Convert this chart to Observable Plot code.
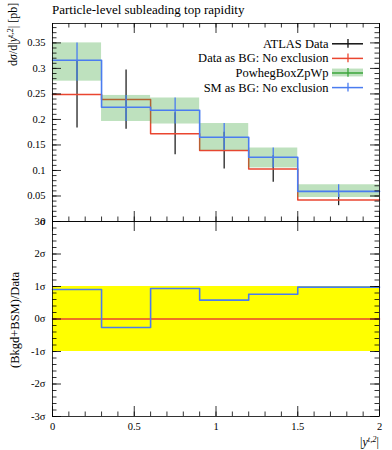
<!DOCTYPE html>
<html><head><meta charset="utf-8">
<script src="https://cdn.jsdelivr.net/npm/d3@7"></script>
<script src="https://cdn.jsdelivr.net/npm/@observablehq/plot@0.6"></script>
<style>
body{margin:0;background:#fff;}
#wrap{position:relative;width:392px;height:450px;overflow:hidden;font-family:"Liberation Serif",serif;}
#wrap svg{position:absolute;overflow:visible;}
</style></head><body><div id="wrap"></div>
<script>
// ---- data ----
const binLo = [0, 0.3, 0.6, 0.9, 1.2, 1.5];
const binHi = [0.3, 0.6, 0.9, 1.2, 1.5, 2.0];
const atlasData = [0.249, 0.239, 0.172, 0.139, 0.103, 0.042];
const atlasErr  = [0.066, 0.058, 0.041, 0.036, 0.026, 0.011];
const dataAsBG  = [0.249, 0.239, 0.172, 0.139, 0.103, 0.042];
const powhegLo  = [0.275, 0.196, 0.191, 0.139, 0.105, 0.047];
const powhegHi  = [0.350, 0.247, 0.242, 0.192, 0.144, 0.072];
const smAsBG    = [0.316, 0.224, 0.218, 0.165, 0.126, 0.059];
const ratioDataBG = [0, 0, 0, 0, 0, 0];
const ratioSM     = [0.91, -0.26, 0.94, 0.58, 0.76, 0.98];
const sigmaBand = [-1, 1];
const xDomain = [0, 2];
const topYDomain = [0, 0.388];
const lowYDomain = [-3, 3];
const xTicks = [0, 0.5, 1, 1.5, 2];
const xMinor = d3.range(0, 2.0001, 0.1);
const topYTicks = [0, 0.05, 0.1, 0.15, 0.2, 0.25, 0.3, 0.35];
const topYMinor = d3.range(0, 0.3881, 0.01);
const lowYTicks = [-3, -2, -1, 0, 1, 2, 3];
const lowYMinor = d3.range(-3, 3.001, 0.2);
const legendNames = ["ATLAS Data", "Data as BG: No exclusion", "PowhegBoxZpWp", "SM as BG: No exclusion"];
const legendColors = ["#111111", "#ea4630", "#3aa53a", "#4a7cf0"];

const RED = legendColors[1], BLUE = legendColors[3], GREEN = legendColors[2];
const bins = binLo.map((lo, i) => ({lo, hi: binHi[i], c: (lo + binHi[i]) / 2,
  d: atlasData[i], e: atlasErr[i], bg: dataAsBG[i], pl: powhegLo[i], ph: powhegHi[i], sm: smAsBG[i],
  rbg: ratioDataBG[i], rsm: ratioSM[i]}));
const step = (vals) => binLo.map((x, i) => ({x, y: vals[i]})).concat([{x: binHi[binHi.length - 1], y: vals[vals.length - 1]}]);

const W = 392, mL = 52, mR = 13;
const plotW = W - mL - mR;
const FONT = "Liberation Serif";
const tickStroke = {stroke: "#000", strokeWidth: 0.8};
const MAJ = 9, MIN = 4.5;

// ---- top panel ----
const topH = 221, topMT = 23, topMB = 0, topPH = topH - topMT - topMB;
const topPlot = Plot.plot({
  width: W, height: topH, marginLeft: mL, marginRight: mR, marginTop: topMT, marginBottom: topMB,
  x: {domain: xDomain, axis: null},
  y: {domain: topYDomain, axis: null},
  style: {fontFamily: FONT, fontSize: "10.5px", background: "transparent", color: "#000"},
  marks: [
    Plot.ruleX(bins, {x: "c", y1: d => d.d - d.e, y2: d => d.d + d.e, stroke: "#222", strokeWidth: 1.3}),
    Plot.line(step(dataAsBG), {x: "x", y: "y", curve: "step-after", stroke: RED, strokeWidth: 1.5}),
    Plot.rect(bins, {x1: "lo", x2: "hi", y1: "pl", y2: "ph", fill: GREEN, fillOpacity: 0.33}),
    Plot.ruleX(bins, {x: "c", y1: "pl", y2: "ph", stroke: BLUE, strokeWidth: 1.3}),
    Plot.line(step(smAsBG), {x: "x", y: "y", curve: "step-after", stroke: BLUE, strokeWidth: 1.6}),
    // inward ticks
    Plot.tickY(topYMinor, {y: d => d, insetRight: plotW - MIN, ...tickStroke}),
    Plot.tickY(topYTicks, {y: d => d, insetRight: plotW - MAJ, ...tickStroke}),
    Plot.tickY(topYMinor, {y: d => d, insetLeft: plotW - MIN, ...tickStroke}),
    Plot.tickY(topYTicks, {y: d => d, insetLeft: plotW - MAJ, ...tickStroke}),
    Plot.tickX(xMinor, {x: d => d, insetBottom: topPH - MIN, ...tickStroke}),
    Plot.tickX(xTicks, {x: d => d, insetBottom: topPH - MAJ - 1, ...tickStroke}),
    Plot.tickX(xMinor, {x: d => d, insetTop: topPH - MIN, ...tickStroke}),
    Plot.tickX(xTicks, {x: d => d, insetTop: topPH - MAJ - 1, ...tickStroke}),
    Plot.frame({stroke: "#000", strokeWidth: 0.8}),
    Plot.axisY(topYTicks, {anchor: "left", label: null, tickSize: 0, tickPadding: 7, tickFormat: d => String(d), fontSize: 10.5})
  ]
});

// ---- lower panel ----
const lowTop = 221, lowH = 229, lowMT = 0, lowMB = 34, lowPH = lowH - lowMT - lowMB;
const lowPlot = Plot.plot({
  width: W, height: lowH, marginLeft: mL, marginRight: mR, marginTop: lowMT, marginBottom: lowMB,
  x: {domain: xDomain, axis: null},
  y: {domain: lowYDomain, axis: null},
  style: {fontFamily: FONT, fontSize: "10.5px", background: "transparent", color: "#000"},
  marks: [
    Plot.rect([sigmaBand], {x1: () => xDomain[0], x2: () => xDomain[1], y1: d => d[0], y2: d => d[1], fill: "#ffff00"}),
    Plot.line(step(ratioDataBG), {x: "x", y: "y", curve: "step-after", stroke: RED, strokeWidth: 1.5}),
    Plot.line(step(ratioSM), {x: "x", y: "y", curve: "step-after", stroke: BLUE, strokeWidth: 1.6}),
    Plot.tickY(lowYMinor, {y: d => d, insetRight: plotW - MIN, ...tickStroke}),
    Plot.tickY(lowYTicks, {y: d => d, insetRight: plotW - MAJ, ...tickStroke}),
    Plot.tickY(lowYMinor, {y: d => d, insetLeft: plotW - MIN, ...tickStroke}),
    Plot.tickY(lowYTicks, {y: d => d, insetLeft: plotW - MAJ, ...tickStroke}),
    Plot.tickX(xMinor, {x: d => d, insetTop: lowPH - MIN, ...tickStroke}),
    Plot.tickX(xTicks, {x: d => d, insetTop: lowPH - MAJ - 1, ...tickStroke}),
    Plot.tickX(xTicks, {x: d => d, insetBottom: lowPH - MAJ - 1, ...tickStroke}),
    Plot.frame({stroke: "#000", strokeWidth: 0.8}),
    Plot.axisY(lowYTicks, {anchor: "left", label: null, tickSize: 0, tickPadding: 7, tickFormat: d => `${d}σ`, fontSize: 10.5}),
    Plot.axisX(xTicks, {anchor: "bottom", label: null, tickSize: 0, tickPadding: 6, tickFormat: d => String(d), fontSize: 10.5})
  ]
});

// ---- legend ----
const rows = legendNames.map((_, i) => i);
const legL = 163, legTop = 36, legW = 200, legH = 58.4;
const legendPlot = Plot.plot({
  width: legW, height: legH, marginLeft: legW - 31, marginRight: 0, marginTop: 0, marginBottom: 0,
  x: {domain: [0, 1], axis: null},
  y: {domain: [-0.5, rows.length - 0.5], reverse: true, axis: null},
  color: {type: "identity"},
  style: {fontFamily: FONT, fontSize: "12.5px", background: "transparent", color: "#000"},
  marks: [
    Plot.rect(rows.filter(i => i === 2), {x1: () => 0, x2: () => 1, y1: i => i - 0.27, y2: i => i + 0.27, fill: GREEN, fillOpacity: 0.33}),
    Plot.ruleY(rows, {y: i => i, x1: () => 0, x2: () => 1, stroke: i => legendColors[i], strokeWidth: 1.5}),
    Plot.ruleX(rows, {x: () => 0.5, y1: i => i - 0.3, y2: i => i + 0.3, stroke: i => legendColors[i], strokeWidth: 1.3}),
    Plot.text(rows, {x: () => 0, y: i => i, text: i => legendNames[i], textAnchor: "end", dx: -4, fontSize: 12.5, fill: "#000"})
  ]
});

const wrap = document.getElementById("wrap");
topPlot.style.left = "0px"; topPlot.style.top = "0px";
lowPlot.style.left = "0px"; lowPlot.style.top = lowTop + "px";
legendPlot.style.left = legL + "px"; legendPlot.style.top = legTop + "px";
wrap.appendChild(topPlot); wrap.appendChild(lowPlot); wrap.appendChild(legendPlot);

// ---- titles and axis labels (rich text) ----
const ts = d3.select(topPlot);
ts.append("text").attr("x", 52).attr("y", 14).attr("text-anchor", "start")
  .attr("font-family", FONT).attr("font-size", 13).attr("fill", "#000")
  .text("Particle-level subleading top rapidity");
const yl = ts.append("text").attr("font-family", FONT).attr("font-size", 12).attr("fill", "#000")
  .attr("text-anchor", "start").attr("transform", "translate(17,66) rotate(-90)");
yl.append("tspan").text("d");
yl.append("tspan").attr("font-style", "italic").text("σ");
yl.append("tspan").text("/d|");
yl.append("tspan").attr("font-style", "italic").text("y");
yl.append("tspan").attr("dy", -4.5).attr("font-size", 8.5).text("t,2");
yl.append("tspan").attr("dy", 4.5).text("| [pb]");

const ls = d3.select(lowPlot);
ls.append("text").attr("font-family", FONT).attr("font-size", 12.5).attr("fill", "#000")
  .attr("text-anchor", "middle").attr("transform", "translate(19,99) rotate(-90)")
  .text("(Bkgd+BSM)/Data");
const xl = ls.append("text").attr("font-family", FONT).attr("font-size", 12).attr("fill", "#000")
  .attr("text-anchor", "end").attr("x", 379).attr("y", 225);
xl.append("tspan").text("|");
xl.append("tspan").attr("font-style", "italic").text("y");
xl.append("tspan").attr("dy", -4.5).attr("font-size", 8.5).attr("font-style", "italic").text("t,2");
xl.append("tspan").attr("dy", 4.5).text("|");
</script></body></html>
